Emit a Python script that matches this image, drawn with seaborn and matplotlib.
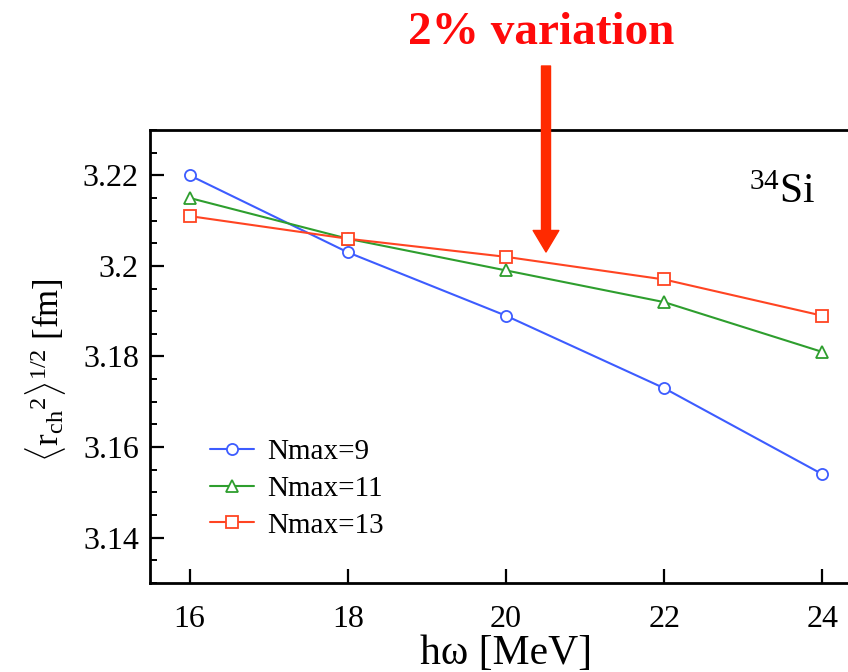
import matplotlib
matplotlib.use("Agg")
import matplotlib.pyplot as plt
import seaborn as sns
import pandas as pd
from matplotlib.ticker import MultipleLocator

# Charge radius of 34Si versus oscillator frequency, for three model-space truncations
hw = [16, 18, 20, 22, 24]
r_nmax9 = [3.220, 3.203, 3.189, 3.173, 3.154]
r_nmax11 = [3.215, 3.206, 3.199, 3.192, 3.181]
r_nmax13 = [3.211, 3.206, 3.202, 3.197, 3.189]
labels = ["Nmax=9", "Nmax=11", "Nmax=13"]
colors = ["#3d5cff", "#2e9e2e", "#ff4422"]
markers = ["o", "^", "s"]

sns.set_theme(style="ticks")
plt.rcParams["font.family"] = ["Liberation Serif", "DejaVu Serif"]
plt.rcParams["mathtext.fontset"] = "custom"
plt.rcParams["mathtext.rm"] = "Liberation Serif"
plt.rcParams["mathtext.it"] = "Liberation Serif:italic"
plt.rcParams["text.color"] = "black"
plt.rcParams["axes.labelcolor"] = "black"

fig = plt.figure(figsize=(8.48, 6.72), dpi=100)
ax = fig.add_axes([150 / 848, (672 - 583) / 672, 712 / 848, 453 / 672])

for vals, lab, c, m in zip([r_nmax9, r_nmax11, r_nmax13], labels, colors, markers):
    df = pd.DataFrame({"hw": hw, "r": vals})
    sns.lineplot(data=df, x="hw", y="r", ax=ax, color=c, marker=m,
                 markersize=8, markerfacecolor="white", markeredgecolor=c,
                 markeredgewidth=1.3, linewidth=1.5, label=lab)

ax.set_xlim(15.5, 24.5)
ax.set_ylim(3.13, 3.23)
ax.set_xticks(hw)
ax.set_xticklabels([str(v) for v in hw])
ax.set_yticks([3.14, 3.16, 3.18, 3.20, 3.22])
ax.set_yticklabels(["3.14", "3.16", "3.18", "3.2", "3.22"])
ax.yaxis.set_minor_locator(MultipleLocator(0.005))

ax.tick_params(axis="both", which="major", direction="in", length=10, width=1.6,
               labelsize=23, color="black", labelcolor="black")
ax.tick_params(axis="x", which="major", pad=16)
ax.tick_params(axis="y", which="major", pad=8)
ax.tick_params(axis="y", which="minor", direction="in", length=5, width=1.4,
               color="black")
ax.tick_params(axis="y", which="both", right=True)
for sp in ax.spines.values():
    sp.set_visible(True)
    sp.set_linewidth(2.0)
    sp.set_color("black")

ax.set_xlabel("hω [MeV]", fontsize=30, labelpad=0)
ax.set_ylabel(r"$\langle\mathrm{r}_{\mathrm{ch}}{}^{2}\rangle^{1/2}$ [fm]",
              fontsize=25)
ax.yaxis.set_label_coords(-0.115, 0.47)

leg = ax.legend(loc="upper left", bbox_to_anchor=(0.068, 0.345), frameon=False,
                fontsize=21, handlelength=1.5, handletextpad=0.45,
                labelspacing=0.36, borderaxespad=0)
for t in leg.get_texts():
    t.set_color("black")

ax.text(0.935, 0.905, r"$^{34}$Si", transform=ax.transAxes, fontsize=30,
        ha="right", va="top", color="black")

# Annotation: the arrow marking the spread between truncations
fig.text(541 / 848, 1 - 33 / 672, "2% variation", color="#ff0a0a",
         fontsize=34, fontweight="bold", ha="center", va="center")
ax.annotate("", xy=(546, 672 - 252), xycoords="figure pixels",
            xytext=(546, 672 - 66), textcoords="figure pixels",
            arrowprops=dict(width=6.5, headwidth=18.5, headlength=15.5,
                            color="#ff2a00", shrink=0),
            annotation_clip=False)

fig.savefig("out.png", dpi=100)
